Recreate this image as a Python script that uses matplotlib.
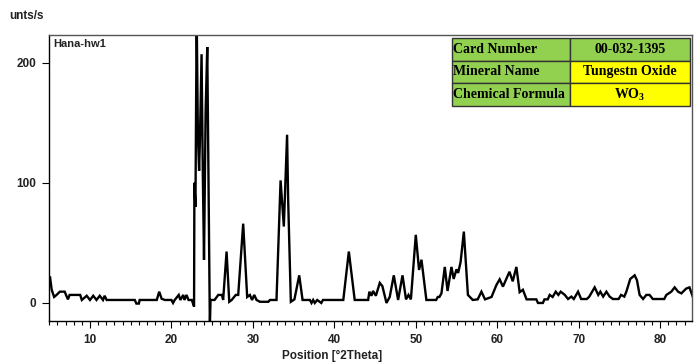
import matplotlib
matplotlib.use("Agg")
import matplotlib.pyplot as plt
from matplotlib.ticker import MultipleLocator

# XRD pattern: position (deg 2theta) and counts
two_theta = [5.0, 5.09, 5.3, 5.6, 5.9, 6.3, 6.9, 7.1, 7.3, 7.5, 8.8, 9.0, 9.6, 10.0, 10.4,
             10.8, 11.2, 11.6, 11.8, 12.05, 15.5, 15.7, 16.0, 16.1, 18.2, 18.5, 18.8, 19.2,
             20.0, 20.2, 20.4, 20.9, 21.1, 21.45, 21.6, 21.85, 22.1, 22.5, 22.78, 22.82,
             22.95, 23.1, 23.25, 23.4, 23.5, 23.7, 23.85, 24.0, 24.2, 24.4, 24.55, 24.72,
             24.8, 25.3, 25.75, 26.2, 26.35, 26.77, 27.1, 27.4, 27.9, 28.2, 28.81, 29.3,
             29.63, 29.9, 30.17, 30.45, 30.86, 31.9, 32.1, 32.9, 33.4, 33.8, 34.2, 34.33,
             34.66, 35.1, 35.69, 36.1, 37.0, 37.2, 37.4, 37.6, 37.9, 38.4, 38.6, 41.1,
             41.78, 42.5, 44.15, 44.3, 44.56, 44.75, 45.1, 45.58, 45.9, 46.4, 46.8, 47.3,
             47.83, 48.37, 48.8, 49.1, 49.4, 50.0, 50.4, 50.7, 51.3, 52.5, 52.7, 52.9,
             53.15, 53.56, 53.9, 54.38, 54.65, 55.0, 55.2, 55.5, 55.9, 56.4, 57.0, 57.6,
             58.06, 58.5, 59.3, 59.9, 60.3, 60.7, 61.5, 61.9, 62.35, 62.75, 63.15, 63.6,
             64.8, 65.0, 65.6, 65.8, 66.2, 66.44, 66.8, 67.18, 67.5, 67.79, 68.3, 68.69,
             69.1, 69.4, 69.92, 70.3, 71.0, 71.3, 71.96, 72.4, 72.66, 73.0, 73.4, 73.8,
             74.2, 74.9, 75.2, 75.6, 75.85, 76.33, 76.87, 77.15, 77.48, 77.9, 78.3, 78.7,
             79.1, 80.5, 80.76, 81.37, 81.78, 82.2, 82.6, 83.2, 83.6, 84.0]
counts = [20, 22, 11, 5, 6.7, 9.4, 9.4, 6, 3, 6.7, 6.7, 2.5, 6, 2.5, 6,
          2.5, 6, 2.5, 6, 2.5, 2.5, -0.5, -0.5, 2.5, 2.5, 9.4, 3.5, 2.5,
          2.5, 0, 2.5, 6.7, 2.5, 6.7, 2.5, 6.7, 2.5, 2.5, -3, 100,
          80, 240, 140, 110, 136, 207, 110, 36, 160, 213, 100, -20,
          2.5, 2.5, 6.7, 6.7, 2.5, 42.8, 1, 2.5, 6.7, 6.7, 66, 5,
          6.7, 2.5, 6.7, 2.5, 1, 1, 2.5, 2.5, 102, 63.6, 140, 86,
          1, 3, 23, 2.5, 2.5, 0, 2.5, 0, 2.5, 0, 2.5, 2.5,
          42.8, 2.5, 2.5, 9.4, 6, 10, 6, 16.7, 14, 0, 5, 23,
          2.5, 23, 3, 6.7, 3, 56.7, 27.5, 36, 2.5, 2.5, 5, 5,
          8, 30, 10, 30, 20, 28, 25, 34, 59.4, 6.7, 2.5, 3,
          9.4, 3, 5, 15, 19.7, 13.6, 26, 18, 30, 9, 11, 3,
          3, 0, 0, 3, 3, 6.7, 5, 9.4, 6.7, 9.4, 6.7, 3.3,
          5.3, 3.3, 9.4, 3.3, 3.3, 5.3, 13, 6.7, 9.4, 5.3, 9.4, 5.3,
          3.3, 3.3, 6.7, 5.3, 9.4, 20, 23, 19, 6.7, 3.3, 6.7, 6.7,
          3.3, 3.3, 6.7, 9.4, 13, 9.4, 8, 12, 13, 5.3]

card_labels = ["Card Number", "Mineral Name", "Chemical Formula"]
card_values = ["00-032-1395", "Tungestn Oxide", "WO$_\\mathregular{3}$"]

sans = "Liberation Sans"
serif = "Liberation Serif"

fig = plt.figure(figsize=(6.94, 3.63), dpi=100)
ax = fig.add_axes([0.0706, 0.1157, 0.9264, 0.7879])

ax.plot(two_theta, counts, color="black", lw=1.7, solid_joinstyle="miter")
ax.set_xlim(4.97, 83.9)
ax.set_ylim(-15, 223)

ax.set_xticks([10, 20, 30, 40, 50, 60, 70, 80])
ax.set_yticks([0, 100, 200])
ax.xaxis.set_minor_locator(MultipleLocator(1))
ax.tick_params(axis="both", which="major", direction="out", length=5, width=0.8,
               labelsize=8.5, pad=4)
ax.tick_params(axis="x", which="minor", direction="out", length=3, width=0.8)
for lab in ax.get_xticklabels() + ax.get_yticklabels():
    lab.set_fontfamily(sans)
    lab.set_fontweight("bold")
    lab.set_color("#222222")

for sp in ax.spines.values():
    sp.set_linewidth(1.0)
ax.spines["top"].set_color("#555555")
ax.spines["right"].set_color("#555555")

ax.set_xlabel("Position [°2Theta]", family=sans, fontweight="bold", fontsize=8.5,
              labelpad=3, color="#222222")
ax.xaxis.set_label_coords(0.44, -0.1)
fig.text(0.014, 0.955, "unts/s", family=sans, fontweight="bold", fontsize=8.5,
         color="#222222", va="center")
ax.text(0.006, 0.985, "Hana-hw1", transform=ax.transAxes, family=sans,
        fontweight="bold", fontsize=8, va="top", ha="left", color="#222222")

# reference card table
cells = [[l, v] for l, v in zip(card_labels, card_values)]
colours = [["#92D050", "#92D050"], ["#92D050", "#FFFF00"], ["#92D050", "#FFFF00"]]
tbl = ax.table(cellText=cells, cellColours=colours, bbox=[0.627, 0.752, 0.37, 0.238],
               colWidths=[0.496, 0.504])
tbl.auto_set_font_size(False)
for (r, c), cell in tbl.get_celld().items():
    cell.set_edgecolor("#333333")
    cell.set_linewidth(1.0)
    t = cell.get_text()
    t.set_fontfamily(serif)
    t.set_fontweight("bold")
    t.set_fontsize(10)
    if c == 0:
        cell.set_text_props(ha="left")
        cell.PAD = 0.01
    else:
        cell.set_text_props(ha="center")

fig.savefig("out.png", dpi=100)
